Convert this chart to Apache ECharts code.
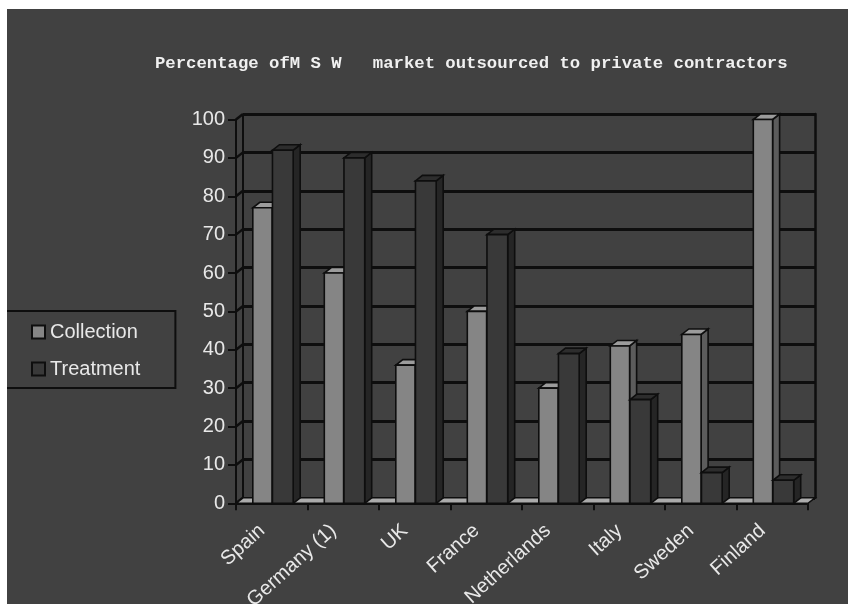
<!DOCTYPE html>
<html>
<head>
<meta charset="utf-8">
<script src="https://cdn.jsdelivr.net/npm/echarts@6/dist/echarts.min.js"></script>
<style>
html,body{margin:0;padding:0;background:#fff;}
#c{width:848px;height:604px;}
</style>
</head>
<body>
<div id="c"></div>
<script>
// ---- data ----
const titleText = 'Percentage ofM S W   market outsourced to private contractors';
const categories = ['Spain', 'Germany (1)', 'UK', 'France', 'Netherlands', 'Italy', 'Sweden', 'Finland'];
const seriesNames = ['Collection', 'Treatment'];
const collection = [77, 60, 36, 50, 30, 41, 44, 100];
const treatment = [92, 90, 84, 70, 39, 27, 8, 6];
const yMin = 0, yMax = 100, yStep = 10;
const yTicks = [0, 10, 20, 30, 40, 50, 60, 70, 80, 90, 100];

// ---- styling ----
const BG = '#414141';
const EDGE = '#0e0e0e';
const DX = 7, DY = -5.5;
const TXT = '#e8e8e8';

function bar3D(frontC, topC, sideC, offL, offR) {
  return function (params, api) {
    const i = api.value(0), v = api.value(1);
    const base = api.coord([i, 0]);
    const top = api.coord([i, v]);
    const bw = api.size([1, 0])[0];
    const s = base[0] - bw / 2;
    const x0 = s + offL * bw, x1 = s + offR * bw;
    const y0 = base[1], y1 = top[1];
    const st = (f) => ({ fill: f, stroke: EDGE, lineWidth: 1.6 });
    return {
      type: 'group',
      children: [
        { type: 'polygon', shape: { points: [[x1, y0], [x1 + DX, y0 + DY], [x1 + DX, y1 + DY], [x1, y1]] }, style: st(sideC) },
        { type: 'polygon', shape: { points: [[x0, y1], [x1, y1], [x1 + DX, y1 + DY], [x0 + DX, y1 + DY]] }, style: st(topC) },
        { type: 'rect', shape: { x: x0, y: y1, width: x1 - x0, height: y0 - y1 }, style: st(frontC) }
      ]
    };
  };
}

function floorItem(params, api) {
  const n = categories.length;
  const bw = api.size([1, 0])[0];
  const a = api.coord([0, 0]);
  const b = api.coord([n - 1, 0]);
  const L = a[0] - bw / 2, R = b[0] + bw / 2, y0 = a[1];
  const children = [];
  yTicks.forEach(function (t) {
    const y = api.coord([0, t])[1];
    children.push({ type: 'line', shape: { x1: L, y1: y, x2: L + DX, y2: y + DY }, style: { stroke: EDGE, lineWidth: 2.5 } });
  });
  children.push({ type: 'line', shape: { x1: L + DX, y1: api.coord([0, yMax])[1] + DY, x2: L + DX, y2: y0 + DY }, style: { stroke: EDGE, lineWidth: 2 } });
  children.push({
    type: 'polygon',
    shape: { points: [[L, y0], [R, y0], [R + DX, y0 + DY], [L + DX, y0 + DY]] },
    style: { fill: '#ababab', stroke: EDGE, lineWidth: 1.6 }
  });
  return { type: 'group', children: children };
}

const chart = echarts.init(document.getElementById('c'), null, { renderer: 'canvas' });
chart.setOption({
  backgroundColor: BG,
  animation: false,
  title: {
    text: titleText,
    left: 150, top: 50,
    textStyle: { fontFamily: 'Liberation Mono', fontSize: 17.3, fontWeight: 'bold', color: '#f0f0f0' }
  },
  legend: {
    orient: 'vertical',
    left: 2, top: 311,
    padding: [10, 35, 8, 29],
    borderColor: EDGE, borderWidth: 2,
    itemWidth: 13, itemHeight: 13, itemGap: 15,
    icon: 'rect',
    itemStyle: { borderColor: EDGE, borderWidth: 2 },
    textStyle: { fontFamily: 'Liberation Sans', fontSize: 20, color: TXT, lineHeight: 22, padding: [0, 0, 0, 0] },
    data: seriesNames
  },
  graphic: [
    { type: 'rect', z: 100, shape: { x: 0, y: 0, width: 848, height: 9 }, style: { fill: '#fff' } },
    { type: 'rect', z: 100, shape: { x: 0, y: 0, width: 7, height: 604 }, style: { fill: '#fff' } }
  ],
  grid: [
    { left: 236, top: 119.5, width: 572, height: 383.8, containLabel: false, outerBoundsMode: 'none' },
    { left: 236 + DX, top: 119.5 + DY, width: 572, height: 383.8, containLabel: false, outerBoundsMode: 'none' }
  ],
  xAxis: [
    {
      gridIndex: 0, type: 'category', data: categories, boundaryGap: true,
      axisLine: { show: true, lineStyle: { color: EDGE, width: 2 } },
      axisTick: { show: true, length: 7, lineStyle: { color: EDGE, width: 2 } },
      axisLabel: { rotate: 42, margin: 16, padding: [0, 13, 0, 0], fontFamily: 'Liberation Sans', fontSize: 20, color: TXT, interval: 0 },
      splitLine: { show: false }
    },
    {
      gridIndex: 1, type: 'category', data: categories, show: false
    }
  ],
  yAxis: [
    {
      gridIndex: 0, type: 'value', min: yMin, max: yMax, interval: yStep,
      axisLine: { show: true, lineStyle: { color: EDGE, width: 2 } },
      axisTick: { show: true, length: 8, lineStyle: { color: EDGE, width: 2 } },
      axisLabel: { margin: 11, fontFamily: 'Liberation Sans', fontSize: 20, color: TXT },
      splitLine: { show: false }
    },
    {
      gridIndex: 1, type: 'value', min: yMin, max: yMax, interval: yStep,
      axisLine: { show: false },
      axisTick: { show: false },
      axisLabel: { show: false },
      splitLine: { show: true, lineStyle: { color: EDGE, width: 2.8 } }
    },
    {
      gridIndex: 1, type: 'value', min: yMin, max: yMax, interval: yStep, position: 'right',
      axisLine: { show: true, onZero: false, lineStyle: { color: EDGE, width: 2.5 } },
      axisTick: { show: false },
      axisLabel: { show: false },
      splitLine: { show: false }
    }
  ],
  series: [
    {
      type: 'custom', name: 'floor', xAxisIndex: 0, yAxisIndex: 0, z: 1, silent: true,
      renderItem: floorItem, data: [[0, 0]]
    },
    {
      type: 'custom', name: seriesNames[0], xAxisIndex: 0, yAxisIndex: 0, z: 3,
      itemStyle: { color: '#858585' },
      renderItem: bar3D('#858585', '#9c9c9c', '#5c5c5c', 0.235, 0.505),
      data: categories.map(function (c, i) { return [i, collection[i]]; })
    },
    {
      type: 'custom', name: seriesNames[1], xAxisIndex: 0, yAxisIndex: 0, z: 4,
      itemStyle: { color: '#393939' },
      renderItem: bar3D('#393939', '#2d2d2d', '#252525', 0.51, 0.80),
      data: categories.map(function (c, i) { return [i, treatment[i]]; })
    }
  ]
});
</script>
</body>
</html>
